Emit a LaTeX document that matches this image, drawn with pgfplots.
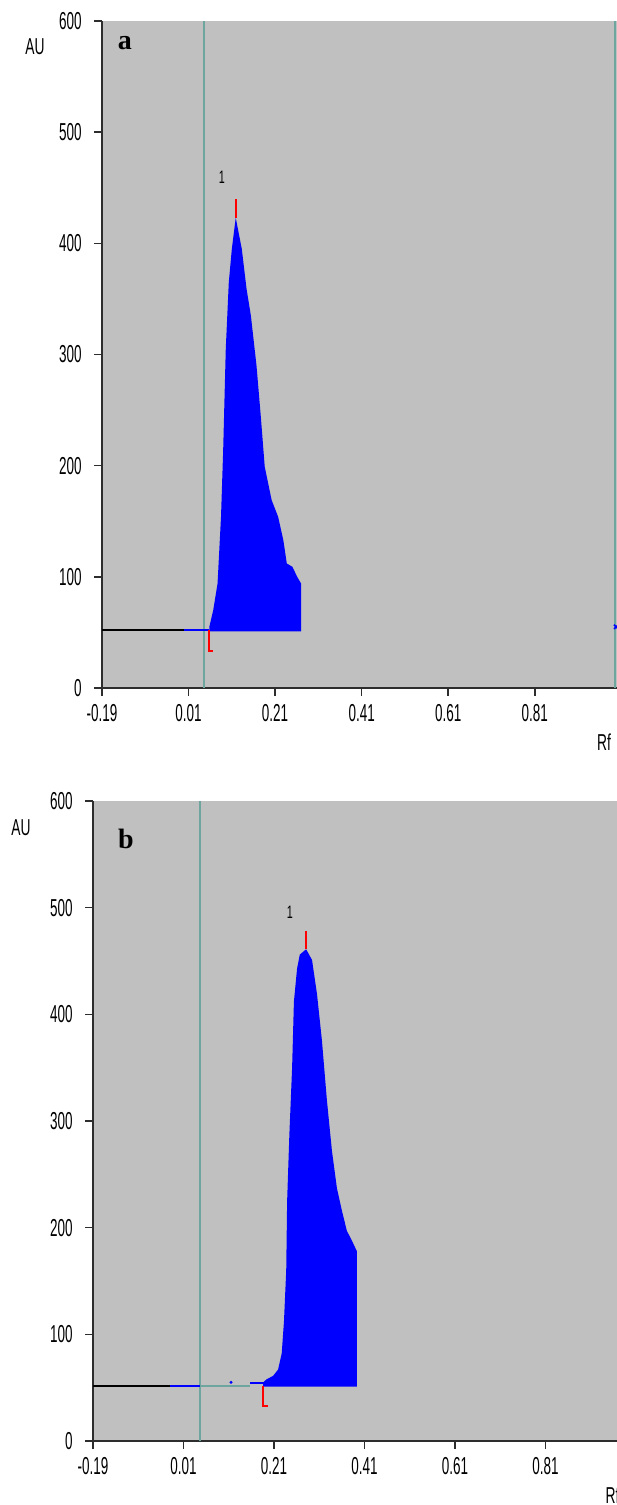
\documentclass[border=0pt]{standalone}
\usepackage{fontspec}
\setmainfont{Liberation Sans}
\newfontfamily\lserif{Liberation Serif}
\usepackage{pgfplots}
\pgfplotsset{compat=1.18}

\definecolor{plotgray}{RGB}{192,192,192}
\definecolor{markteal}{RGB}{110,165,158}
\definecolor{axisdark}{RGB}{45,45,45}

\pgfplotsset{densito/.style={
    scale only axis,
    axis lines*=left,
    axis line style={axisdark, line width=2.4pt, -},
    axis background/.style={fill=plotgray},
    xmin=-0.19, xmax=1.0, ymin=0, ymax=600,
    xtick={-0.19,0.01,0.21,0.41,0.61,0.81},
    xticklabels={-0.19,0.01,0.21,0.41,0.61,0.81},
    ytick={0,100,200,300,400,500,600},
    yticklabels={0,100,200,300,400,500,600},
    tick align=outside,
    major tick length=8pt,
    tick style={axisdark, line width=1.6pt},
    every tick label/.append style={font=\fontsize{24.5}{26}\selectfont, xscale=0.55},
    xticklabel style={yshift=-5pt},
    yticklabel style={xshift=-19pt},
    clip=false,
}}

\begin{document}
\begin{tikzpicture}
\path[use as bounding box] (0,0) rectangle (617pt,1505pt);

% panel a
\begin{axis}[densito, at={(102pt,817pt)}, anchor=south west,
    width=515pt, height=667pt]
  \addplot[markteal, line width=2pt] coordinates {(0.045,0)(0.045,600)};
  \addplot[markteal, line width=2pt] coordinates {(0.996,0)(0.996,600)};
  \addplot[black, line width=2pt] coordinates {(-0.19,52)(0.0,52)};
  \addplot[blue, line width=2pt] coordinates {(0.0,52)(0.058,52)};
  \addplot[fill=blue, draw=none] coordinates {
    (0.058,51)(0.058,55)(0.067,70)(0.077,94)(0.085,154)(0.090,214)(0.096,305)
    (0.103,365)(0.110,395)(0.119,423)(0.133,395)(0.144,359)(0.154,335)
    (0.167,290)(0.177,244)(0.186,199)(0.202,169)(0.217,154)(0.229,133)
    (0.237,112)(0.250,109)(0.261,100)(0.270,94)(0.270,51)};
  \addplot[red, line width=2pt] coordinates {(0.058,52)(0.058,33)(0.067,33)};
  \addplot[red, line width=2pt] coordinates {(0.119,423)(0.119,440)};
  \addplot[blue, only marks, mark=x, mark size=3pt, line width=1.5pt] coordinates {(0.998,55)};
  \node[font=\fontsize{18}{20}\selectfont, xscale=0.6] at (axis cs:0.087,459) {1};
  \node[font=\lserif\bfseries\fontsize{28}{30}\selectfont] at (axis cs:-0.137,580) {a};
  \node[xshift=-67pt, font=\fontsize{23}{25}\selectfont, xscale=0.6] at (axis cs:-0.19,577) {AU};
  \node[xshift=-4pt, yshift=-42pt, font=\fontsize{23}{25}\selectfont, xscale=0.6, anchor=north east] at (axis cs:1.0,0) {Rf};
\end{axis}

% panel b
\begin{axis}[densito, at={(93pt,64pt)}, anchor=south west,
    width=538.5pt, height=640pt]
  \addplot[markteal, line width=2pt] coordinates {(0.046,0)(0.046,600)};
  \addplot[black, line width=2pt] coordinates {(-0.19,52)(-0.02,52)};
  \addplot[blue, line width=2pt] coordinates {(-0.02,52)(0.046,52)};
  \addplot[markteal, line width=2pt] coordinates {(0.046,52)(0.157,52)};
  \addplot[blue, line width=2pt] coordinates {(0.157,54)(0.186,54)};
  \addplot[blue, only marks, mark=*, mark size=1.3pt] coordinates {(0.115,55)};
  \addplot[fill=blue, draw=none] coordinates {
    (0.186,51)(0.186,55)(0.194,58)(0.208,61)(0.219,67)(0.227,82)(0.232,112)
    (0.237,160)(0.239,225)(0.244,288)(0.250,350)(0.254,412)(0.261,443)
    (0.267,456)(0.281,461)(0.294,451)(0.305,419)(0.316,375)(0.327,319)
    (0.338,272)(0.349,237)(0.360,216)(0.371,197)(0.382,188)(0.393,178)
    (0.393,51)};
  \addplot[red, line width=2pt] coordinates {(0.186,52)(0.186,33)(0.196,33)};
  \addplot[red, line width=2pt] coordinates {(0.281,461)(0.281,478)};
  \node[font=\fontsize{18}{20}\selectfont, xscale=0.6] at (axis cs:0.245,496) {1};
  \node[font=\lserif\bfseries\fontsize{28}{30}\selectfont] at (axis cs:-0.117,564) {b};
  \node[xshift=-72pt, font=\fontsize{23}{25}\selectfont, xscale=0.6] at (axis cs:-0.19,575) {AU};
  \node[xshift=-10pt, yshift=-42pt, font=\fontsize{23}{25}\selectfont, xscale=0.6, anchor=north east] at (axis cs:1.0,0) {Rf};
\end{axis}
\end{tikzpicture}
\end{document}
